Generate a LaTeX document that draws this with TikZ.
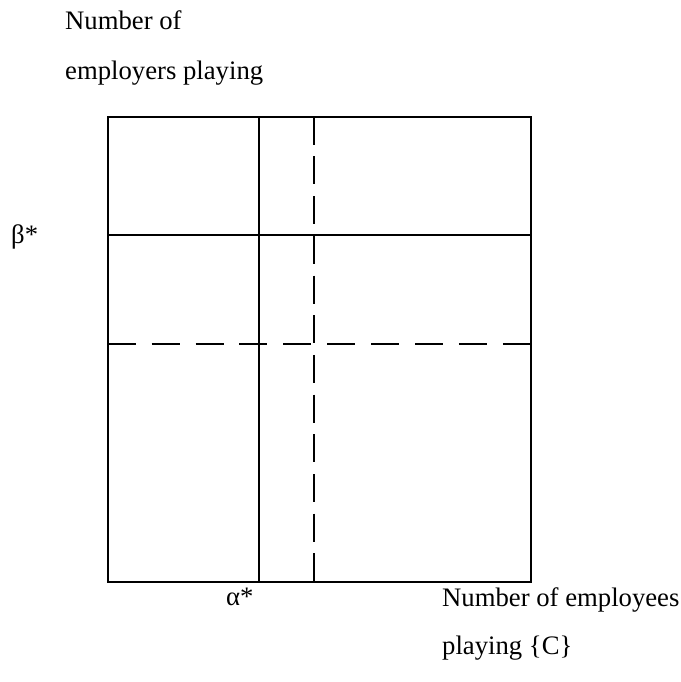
\documentclass[tikz,border=0pt]{standalone}
\usepackage{fontspec}
\setmainfont{Liberation Serif}
\begin{document}
\begin{tikzpicture}[x=1pt,y=-1pt,
  lbl/.style={anchor=base west,inner sep=0pt,font=\fontsize{26.7}{32}\selectfont},
  boxline/.style={line width=2pt,line cap=rect},
  vdash/.style={line width=2pt,dash pattern=on 28pt off 11.7pt},
  hdash/.style={line width=2pt,dash pattern=on 28pt off 15.9pt}]
\useasboundingbox (0,0) rectangle (680,682);
\coordinate (tl) at (107.7,116.7);
\coordinate (br) at (530.7,581.7);
\coordinate (vst) at (258.5,116.7);
\coordinate (vsb) at (258.5,581.7);
\coordinate (vdt) at (314,116.7);
\coordinate (vdb) at (314,581.7);
\coordinate (hsl) at (107.7,235);
\coordinate (hsr) at (530.7,235);
\coordinate (hdl) at (107.7,343.5);
\coordinate (hdr) at (530.7,343.5);
\draw[boxline] (tl) rectangle (br);
\draw[boxline] (vst) -- (vsb);
\draw[boxline] (hsl) -- (hsr);
\draw[vdash] (vdt) -- (vdb);
\draw[hdash] (hdl) -- (hdr);
\node[lbl] (ylab1) at (65,29.5) {Number of};
\node[lbl] (ylab2) at (65,79.5) {employers playing};
\node[lbl] (beta) at (11,243) {β*};
\node[lbl] (alpha) at (226,605) {α*};
\node[lbl] (xlab1) at (442,606) {Number of employees};
\node[lbl] (xlab2) at (442,654) {playing \{C\}};
\end{tikzpicture}
\end{document}
